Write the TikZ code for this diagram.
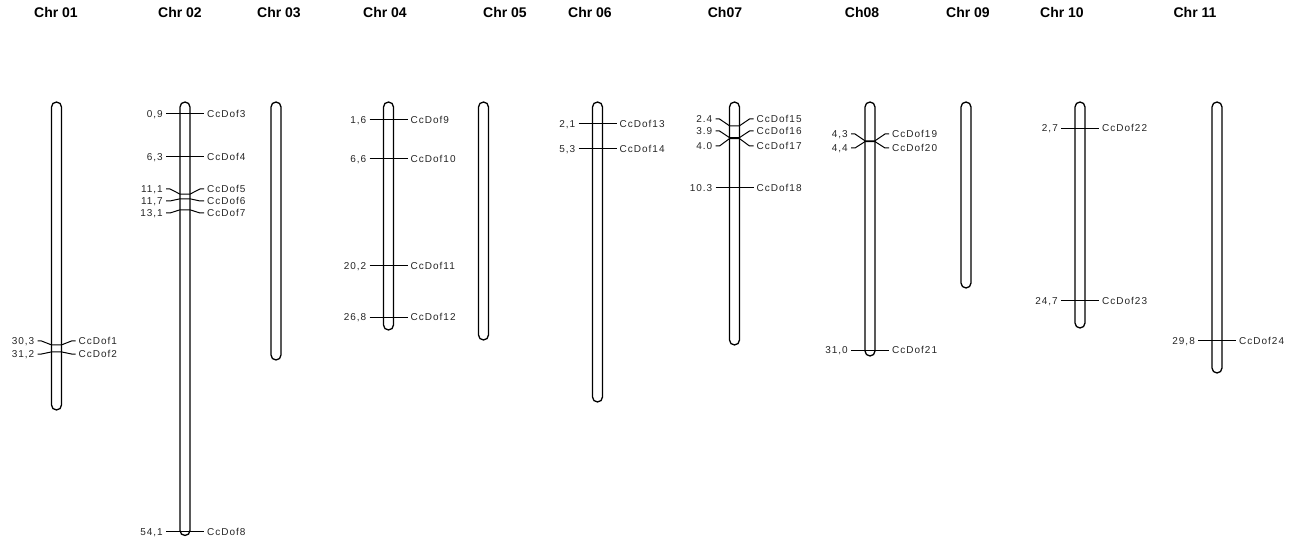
\documentclass[tikz,border=0pt]{standalone}
\usepackage{fontspec}
\setmainfont{Liberation Sans}
\newfontfamily\labfont[LetterSpace=10]{Liberation Sans}
\newcommand\chromo[5]{% name, x, bottom, title, title x
  \draw[chrom] (#2-5,102) rectangle (#2+5,#3);
  \node[ttl] (t#1) at (#5,13) {#4};}
\newcommand\mk[5]{% name, x, y, left, right
  \node[lab,anchor=east] (l#1) at (#2-22,#3) {#4};
  \node[lab,anchor=west] (r#1) at (#2+22,#3) {#5};
  \draw[tick] ([xshift=3pt]l#1.east) -- ([xshift=-3pt]r#1.west);}
\newcommand\gm[6]{% name, x, marker y, label y, left, right
  \node[lab,anchor=east] (l#1) at (#2-22,#4) {#5};
  \node[lab,anchor=west] (r#1) at (#2+22,#4) {#6};
  \draw[tick] ([xshift=3pt]l#1.east) -- ++(4,0) -- (#2-5,#3) -- (#2+5,#3) -- ([xshift=-7pt]r#1.west) -- ([xshift=-3pt]r#1.west);}
\begin{document}
\begin{tikzpicture}[x=1pt,y=-1pt,
  chrom/.style={line width=1.3pt,rounded corners=5pt},
  tick/.style={line width=1pt},
  lab/.style={font=\labfont\fontsize{10}{12}\selectfont,inner sep=0pt,text height=7.1pt,text depth=0pt,text=black!85},
  ttl/.style={font=\bfseries\fontsize{14}{16}\selectfont,inner sep=0pt,text height=10pt,text depth=0pt}]
\useasboundingbox (0,0) rectangle (1296,537);
\fill[white] (0,0) rectangle (1296,537);
% chromosomes
\chromo{1}{56.5}{410}{Chr 01}{56}
\chromo{2}{185}{535.5}{Chr 02}{180}
\chromo{3}{276}{360}{Chr 03}{279}
\chromo{4}{388.5}{330}{Chr 04}{385}
\chromo{5}{483.5}{340}{Chr 05}{505}
\chromo{6}{597.5}{402}{Chr 06}{590}
\chromo{7}{734.5}{345}{Ch07}{725}
\chromo{8}{870}{356}{Ch08}{862}
\chromo{9}{966}{288}{Chr 09}{968}
\chromo{10}{1080}{328}{Chr 10}{1062}
\chromo{11}{1217}{373}{Chr 11}{1195}
% Chr01
\gm{1}{56.5}{344.9}{341}{30,3}{CcDof1}
\gm{2}{56.5}{351.9}{354}{31,2}{CcDof2}
% Chr02
\mk{3}{185}{114}{0,9}{CcDof3}
\mk{4}{185}{156.5}{6,3}{CcDof4}
\gm{5}{185}{194.1}{189}{11,1}{CcDof5}
\gm{6}{185}{198.8}{201}{11,7}{CcDof6}
\gm{7}{185}{209.8}{213}{13,1}{CcDof7}
\mk{8}{185}{531.7}{54,1}{CcDof8}
% Chr04
\mk{9}{388.5}{119.6}{1,6}{CcDof9}
\mk{10}{388.5}{158.8}{6,6}{CcDof10}
\mk{11}{388.5}{265.6}{20,2}{CcDof11}
\mk{12}{388.5}{317.4}{26,8}{CcDof12}
% Chr06
\mk{13}{597.5}{123.5}{2,1}{CcDof13}
\mk{14}{597.5}{148.6}{5,3}{CcDof14}
% Ch07
\gm{15}{734.5}{125.8}{119}{2.4}{CcDof15}
\gm{16}{734.5}{137.6}{131}{3.9}{CcDof16}
\gm{17}{734.5}{138.6}{146}{4.0}{CcDof17}
\mk{18}{734.5}{187.9}{10.3}{CcDof18}
% Ch08
\gm{19}{870}{140.8}{134}{4,3}{CcDof19}
\gm{20}{870}{141.6}{148}{4,4}{CcDof20}
\mk{21}{870}{350.4}{31,0}{CcDof21}
% Chr10
\mk{22}{1080}{128.2}{2,7}{CcDof22}
\mk{23}{1080}{300.9}{24,7}{CcDof23}
% Chr11
\mk{24}{1217}{340.9}{29,8}{CcDof24}
\end{tikzpicture}
\end{document}
